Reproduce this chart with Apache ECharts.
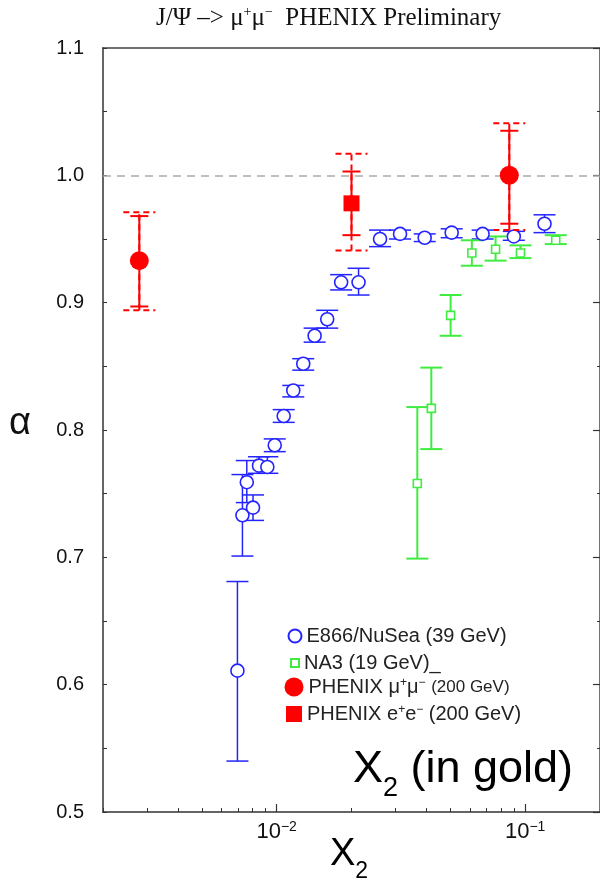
<!DOCTYPE html>
<html>
<head>
<meta charset="utf-8">
<script src="https://cdn.jsdelivr.net/npm/echarts@6/dist/echarts.min.js"></script>
<style>
  html, body { margin: 0; padding: 0; background: #fff; }
  #chart { width: 600px; height: 882px; }
</style>
</head>
<body>
<div id="chart"></div>
<script>
// E866/NuSea (39 GeV), open circles
const e866X = [0.00695, 0.00728, 0.00758, 0.00803, 0.00849, 0.00917, 0.00982, 0.01067, 0.01166, 0.01279, 0.01421, 0.01597, 0.01817, 0.02135, 0.02606, 0.03136, 0.03941, 0.0506, 0.0674, 0.0900, 0.1196];
const e866Y = [0.611, 0.733, 0.759, 0.739, 0.772, 0.771, 0.788, 0.811, 0.831, 0.852, 0.874, 0.887, 0.916, 0.916, 0.950, 0.954, 0.951, 0.955, 0.954, 0.952, 0.962];
const e866Lo = [0.540, 0.701, 0.743, 0.729, 0.766, 0.766, 0.783, 0.806, 0.826, 0.847, 0.869, 0.880, 0.910, 0.906, 0.944, 0.950, 0.948, 0.951, 0.950, 0.949, 0.955];
const e866Hi = [0.681, 0.765, 0.776, 0.749, 0.779, 0.779, 0.793, 0.816, 0.835, 0.856, 0.880, 0.894, 0.922, 0.927, 0.957, 0.957, 0.954, 0.958, 0.957, 0.956, 0.969];

// NA3 (19 GeV), open squares
const na3X = [0.0368, 0.0419, 0.0501, 0.0610, 0.0760, 0.0957, 0.1327];
const na3Y = [0.758, 0.817, 0.890, 0.939, 0.942, 0.939, 0.949];
const na3Lo = [0.699, 0.785, 0.874, 0.929, 0.933, 0.935, 0.946];
const na3Hi = [0.818, 0.849, 0.906, 0.949, 0.952, 0.945, 0.953];

// PHENIX mu+mu- (200 GeV)
const muX = [0.0028, 0.0863];
const muY = [0.933, 1.000];
const muStatLo = [0.897, 0.962];
const muStatHi = [0.968, 1.035];
const muSysLo = [0.894, 0.957];
const muSysHi = [0.971, 1.041];

// PHENIX e+e- (200 GeV)
const eeX = [0.020];
const eeY = [0.978];
const eeStatLo = [0.953];
const eeStatHi = [1.003];
const eeSysLo = [0.941];
const eeSysHi = [1.017];

const xMajorTicks = [0.01, 0.1];
const xMinorTicks = [0.002, 0.003, 0.004, 0.005, 0.006, 0.007, 0.008, 0.009,
  0.02, 0.03, 0.04, 0.05, 0.06, 0.07, 0.08, 0.09, 0.2];

const BLUE = '#2424ff';
const GREEN = '#40ec40';
const RED = '#ff0000';
const SANS = '"Liberation Sans", Arial, sans-serif';
const SERIF = '"Liberation Serif", "Times New Roman", serif';

function zip(xs, ys) {
  return xs.map((x, i) => [x, ys[i]]);
}

function errorBars(name, xs, lo, hi, color, capHalf, width, dash, z) {
  return {
    type: 'custom',
    name,
    silent: true,
    z,
    data: xs.map((x, i) => [x, lo[i], hi[i]]),
    encode: { x: 0, y: [1, 2] },
    renderItem(params, api) {
      const x = api.value(0);
      const low = api.coord([x, api.value(1)]);
      const high = api.coord([x, api.value(2)]);
      const style = { stroke: color, lineWidth: width, lineDash: dash || null };
      return {
        type: 'group',
        children: [
          { type: 'line', shape: { x1: low[0], y1: low[1], x2: high[0], y2: high[1] }, style },
          { type: 'line', shape: { x1: low[0] - capHalf, y1: low[1], x2: low[0] + capHalf, y2: low[1] }, style },
          { type: 'line', shape: { x1: high[0] - capHalf, y1: high[1], x2: high[0] + capHalf, y2: high[1] }, style }
        ]
      };
    }
  };
}

const labelFor = {
  'E866/NuSea (39 GeV)': 'E866/NuSea (39 GeV)',
  'NA3 (19 GeV)_': 'NA3 (19 GeV)_',
  'PHENIX mumu': 'PHENIX μ{sup|+}μ{sup|−} {small|(200 GeV)}',
  'PHENIX ee': 'PHENIX e{sup|+}e{sup|−} (200 GeV)'
};

function legendItem(name, top, size, icon) {
  return {
    data: [{ name, icon }],
    left: 294 - size / 2,
    top,
    padding: 0,
    itemWidth: size,
    itemHeight: size,
    selectedMode: false,
    formatter: n => labelFor[n],
    textStyle: {
      fontFamily: SANS,
      fontSize: 20,
      color: '#222',
      rich: {
        sup: { fontSize: 12, verticalAlign: 'top', fontFamily: SANS, color: '#222' },
        small: { fontSize: 17, fontFamily: SANS, color: '#222' }
      }
    }
  };
}

// text with a lowered "2", drawn with rich tokens aligned to the top of the line
function subText(left, top, size, pre, post) {
  const rich = {
    n: { fontFamily: SANS, fontSize: size, fill: '#000', lineHeight: size, verticalAlign: 'top' },
    sub: { fontFamily: SANS, fontSize: Math.round(size * 0.6), fill: '#000', lineHeight: Math.round(size * 0.6), verticalAlign: 'top', padding: [Math.round(size * 0.62), 0, 0, 0] }
  };
  return {
    type: 'text',
    left,
    top,
    style: { text: '{n|' + pre + '}{sub|2}' + (post ? '{n|' + post + '}' : ''), rich }
  };
}

const chart = echarts.init(document.getElementById('chart'), null, { renderer: 'canvas' });

const option = {
  backgroundColor: '#fff',
  animation: false,
  title: {
    text: '{n|J/Ψ –> μ}{sup|+}{n|μ}{sup|−}{n|  PHENIX Preliminary}',
    left: 156,
    top: 5,
    padding: 0,
    textStyle: {
      fontWeight: 'normal',
      rich: {
        n: { fontFamily: SERIF, fontSize: 25, fontWeight: 'normal', color: '#111', lineHeight: 26 },
        sup: { fontFamily: SERIF, fontSize: 14, fontWeight: 'normal', color: '#111', verticalAlign: 'top', lineHeight: 13 }
      }
    }
  },
  grid: { left: 103, right: -2, top: 48, bottom: 70, containLabel: false },
  xAxis: [
    {
      type: 'log',
      logBase: 10,
      min: 0.002,
      max: 0.2,
      position: 'bottom',
      axisLine: { show: true, lineStyle: { color: '#333', width: 1.5 } },
      axisTick: { show: true, inside: true, length: 8, customValues: xMajorTicks, lineStyle: { color: '#333', width: 1.2 } },
      axisLabel: {
        show: true,
        customValues: xMajorTicks,
        margin: 8,
        formatter: v => (v < 0.05 ? '{n|10}{sup|−2}' : '{n|10}{sup|−1}'),
        rich: {
          n: { fontFamily: SANS, fontSize: 22, color: '#111', lineHeight: 24 },
          sup: { fontFamily: SANS, fontSize: 14, color: '#111', verticalAlign: 'top', lineHeight: 13 }
        }
      },
      splitLine: { show: false }
    },
    {
      type: 'log',
      logBase: 10,
      min: 0.002,
      max: 0.2,
      position: 'bottom',
      axisLine: { show: false },
      axisTick: { show: true, inside: true, length: 4, customValues: xMinorTicks, lineStyle: { color: '#333', width: 1 } },
      axisLabel: { show: false },
      splitLine: { show: false }
    },
    {
      type: 'log',
      logBase: 10,
      min: 0.002,
      max: 0.2,
      position: 'top',
      axisLine: { show: true, lineStyle: { color: '#444', width: 1.5 } },
      axisTick: { show: false },
      axisLabel: { show: false },
      splitLine: { show: false }
    }
  ],
  yAxis: [
    {
      type: 'value',
      min: 0.5,
      max: 1.1,
      interval: 0.1,
      position: 'left',
      axisLine: { show: true, lineStyle: { color: '#666', width: 2 } },
      axisTick: { show: true, inside: true, length: 4, lineStyle: { color: '#333', width: 1 } },
      minorTick: { show: true, splitNumber: 2, length: 4, lineStyle: { color: '#333', width: 1 } },
      axisLabel: { fontFamily: SANS, fontSize: 20, color: '#111', margin: 19, formatter: v => v.toFixed(1) },
      splitLine: { show: false }
    },
    {
      type: 'value',
      min: 0.5,
      max: 1.1,
      interval: 0.1,
      position: 'right',
      axisLine: { show: true, lineStyle: { color: '#444', width: 1.5 } },
      axisTick: { show: true, inside: true, length: 7, lineStyle: { color: '#333', width: 1.2 } },
      minorTick: { show: true, splitNumber: 2, length: 3, lineStyle: { color: '#333', width: 1 } },
      axisLabel: { show: false },
      splitLine: { show: false }
    }
  ],
  legend: [
    legendItem('E866/NuSea (39 GeV)', 626, 13, 'circle'),
    legendItem('NA3 (19 GeV)_', 653, 8, 'rect'),
    legendItem('PHENIX mumu', 677, 19, 'circle'),
    legendItem('PHENIX ee', 704, 16, 'rect')
  ],
  graphic: [
    {
      type: 'text',
      left: 9,
      top: 405,
      style: { text: 'α', font: '38px ' + SANS, fill: '#111' }
    },
    subText(330, 836, 38, 'X', ''),
    subText(353, 747, 45, 'X', ' (in gold)')
  ],
  series: [
    {
      type: 'line',
      name: 'ref',
      data: [],
      silent: true,
      markLine: {
        silent: true,
        symbol: 'none',
        label: { show: false },
        lineStyle: { color: '#aaa', type: [8, 6], width: 1.5 },
        data: [{ yAxis: 1.0 }]
      }
    },
    errorBars('E866 err', e866X, e866Lo, e866Hi, BLUE, 11, 1.5, null, 3),
    errorBars('NA3 err', na3X, na3Lo, na3Hi, GREEN, 11, 2, null, 3),
    errorBars('mu sys', muX, muSysLo, muSysHi, RED, 16, 2, [6, 4], 5),
    errorBars('mu stat', muX, muStatLo, muStatHi, RED, 9, 2, null, 5),
    errorBars('ee sys', eeX, eeSysLo, eeSysHi, RED, 16, 2, [6, 4], 5),
    errorBars('ee stat', eeX, eeStatLo, eeStatHi, RED, 9, 2, null, 5),
    {
      type: 'scatter',
      name: 'E866/NuSea (39 GeV)',
      z: 4,
      symbol: 'circle',
      symbolSize: 13,
      itemStyle: { color: '#fff', borderColor: BLUE, borderWidth: 1.6, opacity: 1 },
      data: zip(e866X, e866Y)
    },
    {
      type: 'scatter',
      name: 'NA3 (19 GeV)_',
      z: 4,
      symbol: 'rect',
      symbolSize: 8,
      itemStyle: { color: '#fff', borderColor: GREEN, borderWidth: 1.6, opacity: 1 },
      data: zip(na3X, na3Y)
    },
    {
      type: 'scatter',
      name: 'PHENIX mumu',
      z: 6,
      symbol: 'circle',
      symbolSize: 19,
      itemStyle: { color: RED, opacity: 1 },
      data: zip(muX, muY)
    },
    {
      type: 'scatter',
      name: 'PHENIX ee',
      z: 6,
      symbol: 'rect',
      symbolSize: 16,
      itemStyle: { color: RED, opacity: 1 },
      data: zip(eeX, eeY)
    }
  ]
};

chart.setOption(option);
</script>
</body>
</html>
